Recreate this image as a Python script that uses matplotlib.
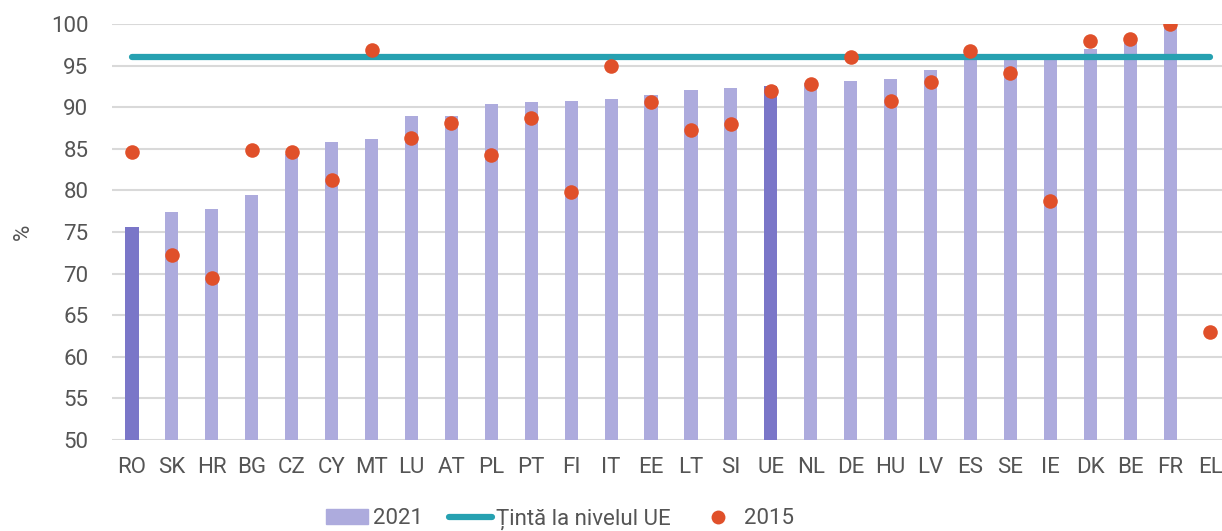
import matplotlib.pyplot as plt
from matplotlib.lines import Line2D
from matplotlib.patches import Patch

countries = ['RO', 'SK', 'HR', 'BG', 'CZ', 'CY', 'MT', 'LU', 'AT', 'PL', 'PT', 'FI', 'IT', 'EE',
             'LT', 'SI', 'UE', 'NL', 'DE', 'HU', 'LV', 'ES', 'SE', 'IE', 'DK', 'BE', 'FR', 'EL']
values_2021 = [75.6, 77.4, 77.8, 79.4, 84.4, 85.8, 86.2, 88.9, 89.0, 90.4, 90.6, 90.7, 91.0, 91.5,
               92.1, 92.3, 92.5, 92.9, 93.1, 93.4, 94.5, 96.5, 95.9, 96.4, 97.0, 98.0, 100.0, None]
values_2015 = [84.6, 72.2, 69.5, 84.8, 84.6, 81.3, 96.9, 86.3, 88.1, 84.3, 88.7, 79.8, 94.9, 90.6,
               87.3, 88.0, 92.0, 92.8, 96.0, 90.7, 93.0, 96.8, 94.1, 78.7, 98.0, 98.2, 100.0, 63.0]
eu_target = 96
highlight = ['RO', 'UE']

BAR = '#adabdd'
BAR_DARK = '#7a76c8'
DOT = '#e0502a'
LINE = '#26a1b1'
TEXT = '#555555'
FS = 16

plt.rcParams['font.family'] = ['Roboto', 'DejaVu Sans']

fig = plt.figure(figsize=(12.22, 5.31), dpi=100)
ax = fig.add_axes([112 / 1222, 91 / 531, 1110 / 1222, 416 / 531])

x = list(range(len(countries)))
for i, (c, v) in enumerate(zip(countries, values_2021)):
    if v is None:
        continue
    ax.bar(i, v - 50, bottom=50, width=0.33, color=BAR_DARK if c in highlight else BAR, zorder=2)

ax.plot(x, [eu_target] * len(x), color=LINE, lw=4.5, solid_capstyle='round', zorder=3)
ax.scatter(x, values_2015, s=110, color=DOT, zorder=4, linewidths=0)

ax.set_ylim(50, 100)
ax.set_xlim(-0.5, 27.3)
ax.set_yticks(range(50, 101, 5))
ax.set_xticks(x)
ax.set_xticklabels(countries)
ax.tick_params(length=0, labelsize=FS, colors=TEXT)
ax.tick_params(axis='x', pad=12)
ax.tick_params(axis='y', pad=17)
ax.grid(axis='y', color='#d9d9d9', lw=1.5, zorder=0)
ax.set_axisbelow(True)
for s in ax.spines.values():
    s.set_visible(False)
ax.set_ylabel('%', color=TEXT, fontsize=FS, labelpad=12)

handles = [Patch(color=BAR), Line2D([0], [0], color=LINE, lw=4.5, solid_capstyle='round'),
           Line2D([0], [0], marker='o', color='none', markerfacecolor=DOT, markeredgewidth=0, markersize=10)]
labels = ['2021', 'Țintă la nivelul UE', '2015']
fig.legend(handles, labels, loc='center', bbox_to_anchor=(560 / 1222, 1 - 519 / 531), ncol=3,
           frameon=False, fontsize=FS, labelcolor=TEXT, handlelength=1.9, columnspacing=1.2,
           handletextpad=0.2, borderpad=0.2)

fig.savefig('out.png', dpi=100)
